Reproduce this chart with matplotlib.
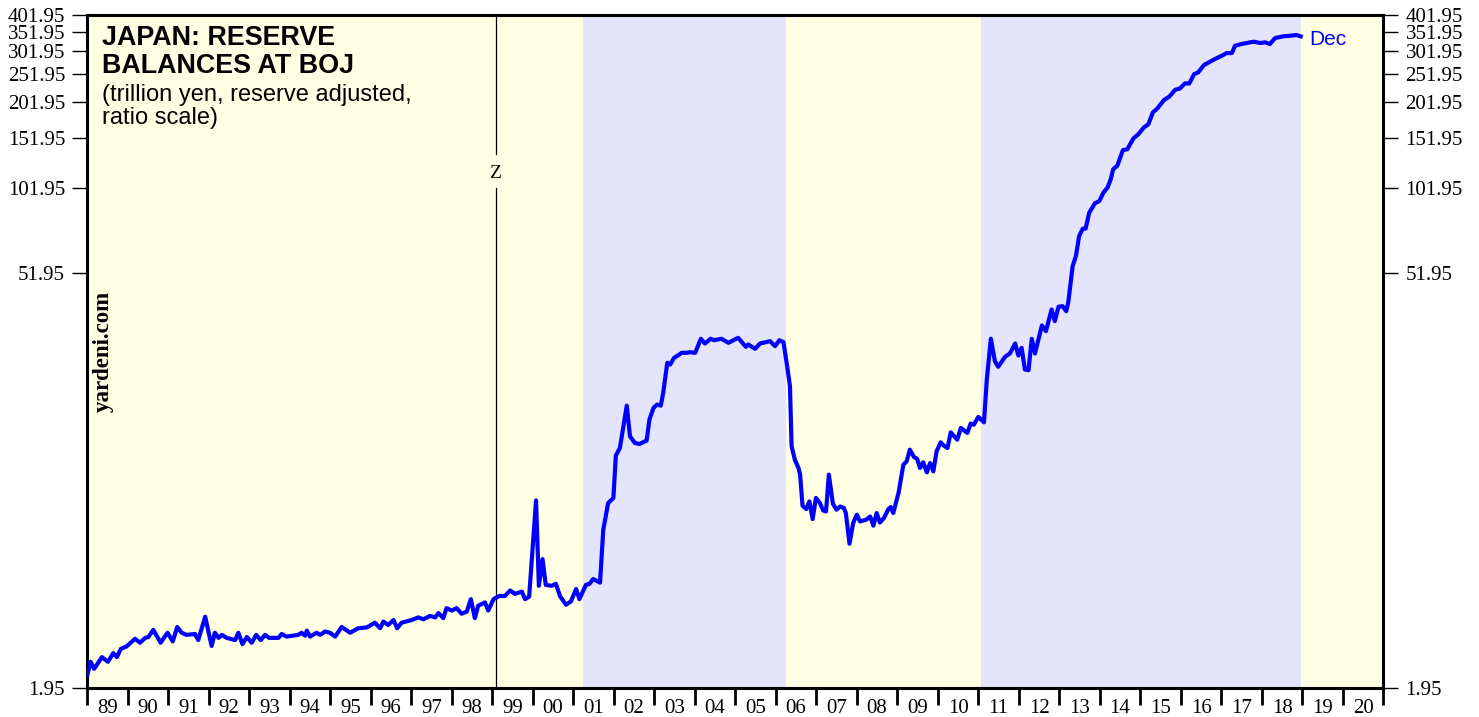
import numpy as np
import matplotlib.pyplot as plt

# monthly-ish readings, trillion yen (ratio scale)
dates_90s = [1989.00, 1989.08, 1989.17, 1989.36, 1989.51, 1989.64, 1989.73, 1989.83, 1989.97, 1990.18,
             1990.30, 1990.43, 1990.51, 1990.63, 1990.81, 1990.98, 1991.11, 1991.22, 1991.33, 1991.45,
             1991.66, 1991.74, 1991.91, 1992.07, 1992.15, 1992.24, 1992.32, 1992.44, 1992.65, 1992.73,
             1992.83, 1992.94, 1993.06, 1993.17, 1993.28, 1993.39, 1993.49, 1993.72, 1993.80, 1993.92,
             1994.21, 1994.29, 1994.38, 1994.42, 1994.50, 1994.66, 1994.75, 1994.87, 1994.99, 1995.12,
             1995.28, 1995.49, 1995.69, 1995.90, 1996.10, 1996.23, 1996.31, 1996.43, 1996.56, 1996.65,
             1996.76, 1997.01, 1997.17, 1997.30, 1997.46, 1997.59, 1997.67, 1997.79, 1997.87, 1998.00,
             1998.12, 1998.24, 1998.37, 1998.47, 1998.57, 1998.65, 1998.82, 1998.90, 1999.03, 1999.17]
vals_90s = [2.16, 2.40, 2.27, 2.49, 2.40, 2.57, 2.49, 2.66, 2.71, 2.88,
            2.79, 2.90, 2.92, 3.09, 2.79, 3.02, 2.82, 3.16, 3.02, 2.97,
            2.99, 2.85, 3.43, 2.72, 3.02, 2.90, 2.97, 2.90, 2.85, 3.02,
            2.76, 2.92, 2.79, 2.97, 2.85, 2.97, 2.90, 2.90, 2.99, 2.93,
            2.97, 3.02, 2.95, 3.07, 2.93, 3.02, 2.97, 3.05, 3.02, 2.93,
            3.16, 3.02, 3.13, 3.15, 3.27, 3.13, 3.30, 3.21, 3.34, 3.13,
            3.27, 3.34, 3.41, 3.36, 3.45, 3.41, 3.53, 3.39, 3.67, 3.60,
            3.67, 3.51, 3.57, 3.94, 3.39, 3.74, 3.84, 3.60, 3.94, 4.04]

dates_00s = [1999.23, 1999.31, 1999.44, 1999.56, 1999.73, 1999.81, 1999.91, 2000.08, 2000.15, 2000.24,
             2000.32, 2000.47, 2000.57, 2000.67, 2000.82, 2000.94, 2001.07, 2001.15, 2001.31, 2001.40,
             2001.49, 2001.66, 2001.74, 2001.86, 2001.99, 2002.05, 2002.15, 2002.32, 2002.40, 2002.52,
             2002.63, 2002.81, 2002.88, 2002.98, 2003.07, 2003.16, 2003.22, 2003.32, 2003.39, 2003.49,
             2003.68, 2003.80, 2003.88, 2004.01, 2004.15, 2004.25, 2004.39, 2004.47, 2004.66, 2004.83,
             2005.07, 2005.26, 2005.32, 2005.49, 2005.61, 2005.86, 2005.98, 2006.09, 2006.19, 2006.28,
             2006.35, 2006.39, 2006.47, 2006.56, 2006.60]
vals_00s = [4.04, 4.04, 4.22, 4.11, 4.18, 3.94, 4.02, 8.61, 4.38, 5.41,
            4.41, 4.38, 4.45, 4.04, 3.77, 3.87, 4.27, 3.94, 4.41, 4.45,
            4.62, 4.49, 6.82, 8.43, 8.78, 12.27, 13.04, 18.24, 14.30, 13.57,
            13.46, 13.82, 16.33, 17.91, 18.39, 18.24, 20.18, 25.60, 25.25, 26.63,
            27.71, 27.71, 27.84, 27.71, 30.96, 29.83, 30.96, 30.62, 30.96, 29.99,
            31.20, 29.06, 29.59, 28.60, 29.83, 30.38, 29.20, 30.62, 30.14, 24.92,
            21.26, 13.21, 11.89, 11.13, 10.56]

dates_exit = [2006.66, 2006.75, 2006.83, 2006.91, 2006.99, 2007.09, 2007.17, 2007.24, 2007.31, 2007.41,
              2007.50, 2007.59, 2007.68, 2007.73, 2007.82, 2007.91, 2008.00, 2008.08, 2008.23, 2008.33,
              2008.41, 2008.49, 2008.57, 2008.67, 2008.78, 2008.84, 2008.90, 2009.03, 2009.15, 2009.23,
              2009.31, 2009.41, 2009.49, 2009.56, 2009.64, 2009.73, 2009.81, 2009.89, 2009.97, 2010.07,
              2010.15, 2010.24, 2010.32, 2010.48, 2010.57, 2010.73, 2010.81, 2010.89, 2011.00, 2011.14]
vals_exit = [8.26, 8.04, 8.54, 7.43, 8.78, 8.43, 7.95, 7.89, 10.56, 8.39,
             8.00, 8.21, 8.11, 7.79, 6.11, 7.20, 7.69, 7.29, 7.39, 7.58,
             7.05, 7.79, 7.23, 7.49, 8.04, 8.17, 7.79, 9.13, 11.43, 11.73,
             12.87, 12.15, 11.96, 11.13, 11.64, 10.75, 11.58, 10.84, 12.70, 13.64,
             13.28, 13.04, 14.76, 13.93, 15.29, 14.69, 15.82, 15.69, 16.68, 15.98]

dates_10s = [2011.21, 2011.31, 2011.41, 2011.49, 2011.66, 2011.78, 2011.91, 2011.99, 2012.07, 2012.15,
             2012.24, 2012.32, 2012.40, 2012.57, 2012.67, 2012.81, 2012.89, 2012.98, 2013.08, 2013.17,
             2013.22, 2013.33, 2013.41, 2013.49, 2013.58, 2013.65, 2013.74, 2013.88, 2013.99, 2014.09,
             2014.19, 2014.27, 2014.33, 2014.43, 2014.57, 2014.68, 2014.83, 2014.95, 2015.09, 2015.20,
             2015.31, 2015.42, 2015.59, 2015.72, 2015.86, 2015.98, 2016.10, 2016.21, 2016.33, 2016.43,
             2016.57, 2016.72, 2016.84, 2017.01, 2017.13, 2017.26, 2017.34, 2017.50, 2017.71, 2017.81,
             2017.96, 2018.08, 2018.20, 2018.33, 2018.53, 2018.70, 2018.86, 2018.96]
vals_10s = [22.42, 30.96, 25.92, 24.80, 26.84, 27.56, 29.83, 27.12, 28.82, 24.27,
            24.14, 30.96, 27.56, 34.40, 32.88, 39.05, 35.60, 39.90, 40.09, 38.53,
            41.19, 55.05, 59.60, 69.84, 74.06, 74.06, 84.08, 90.52, 92.19, 98.53,
            102.5, 109.5, 118.5, 121.7, 137.8, 138.9, 151.2, 156.4, 165.0, 169.3,
            185.8, 191.8, 205.3, 210.9, 222.3, 224.7, 233.8, 233.8, 251.7, 255.1,
            270.3, 277.5, 283.5, 291.1, 297.4, 297.4, 315.1, 319.4, 323.7, 325.3,
            321.9, 323.7, 319.4, 335.0, 339.5, 341.1, 343.0, 339.5]

dates = dates_90s + dates_00s + dates_exit + dates_10s
reserves = vals_90s + vals_00s + vals_exit + vals_10s
assert len(dates) == len(reserves)

# policy regime shading
shade_edges = [1989, 2001.24, 2006.25, 2011.07, 2018.98, 2021]
shade_colors = ['#FFFFE4', '#E4E4FC', '#FFFFE4', '#E4E4FC', '#FFFFE4']
zirp_date = 1999.08

yticks = [1.95, 51.95, 101.95, 151.95, 201.95, 251.95, 301.95, 351.95, 401.95]
years = list(range(1989, 2021))
year_labels = [f'{y % 100:02d}' for y in years]

serif = 'Liberation Serif'
sans = 'Liberation Sans'

fig = plt.figure(figsize=(14.79, 7.17), dpi=100)
ax = fig.add_axes([87.3 / 1479, 1 - 688 / 717, 1296 / 1479, 673 / 717])

for i, c in enumerate(shade_colors):
    ax.axvspan(shade_edges[i], shade_edges[i + 1], color=c, lw=0, zorder=0)

ax.plot(dates, reserves, color='#0000FF', lw=3, solid_joinstyle='round', zorder=3)

trans = ax.get_xaxis_transform()
ax.plot([zirp_date, zirp_date], [0, 0.743], color='black', lw=0.9, transform=trans, zorder=2)
ax.plot([zirp_date, zirp_date], [0.7935, 1], color='black', lw=0.9, transform=trans, zorder=2)
ax.text(zirp_date, 0.764, 'Z', transform=trans, ha='center', va='center',
        family=serif, fontsize=14)

ax.set_yscale('log')
ax.set_ylim(yticks[0], yticks[-1])
ax.set_xlim(1989, 2021)
ax.set_yticks(yticks)
ax.set_yticklabels([f'{v:.2f}' for v in yticks])
ax.yaxis.set_minor_locator(plt.NullLocator())
ax.tick_params(axis='y', which='major', direction='out', length=11, width=1,
               pad=5, labelsize=15, left=True, right=True, labelleft=True, labelright=True)

ax.set_xticks(range(1989, 2022))
ax.set_xticklabels([])
ax.set_xticks([y + 0.5 for y in years], minor=True)
ax.set_xticklabels(year_labels, minor=True)
ax.tick_params(axis='x', which='major', direction='out', length=12.5, width=2)
ax.tick_params(axis='x', which='minor', length=0, pad=8, labelsize=15)

for lab in ax.xaxis.get_ticklabels(which='both') + ax.yaxis.get_ticklabels(which='both'):
    lab.set_family(serif)

for s in ax.spines.values():
    s.set_linewidth(2.2)

ax.text(0.0111, 0.9554, 'JAPAN: RESERVE', transform=ax.transAxes, family=sans,
        fontweight='bold', fontsize=19.4, va='baseline', ha='left')
ax.text(0.0111, 0.9143, 'BALANCES AT BOJ', transform=ax.transAxes, family=sans,
        fontweight='bold', fontsize=19.4, va='baseline', ha='left')
ax.text(0.0111, 0.8726, '(trillion yen, reserve adjusted,', transform=ax.transAxes,
        family=sans, fontsize=17, va='baseline', ha='left')
ax.text(0.0111, 0.8385, 'ratio scale)', transform=ax.transAxes,
        family=sans, fontsize=17, va='baseline', ha='left')

ax.text(0.0121, 0.5, 'yardeni.com', transform=ax.transAxes, rotation=90,
        family=serif, fontweight='bold', fontsize=16.5, ha='center', va='center')

ax.text(2019.17, 332, 'Dec', color='#0000FF', family=sans, fontsize=15,
        ha='left', va='center')

fig.savefig('out.png', dpi=100)
